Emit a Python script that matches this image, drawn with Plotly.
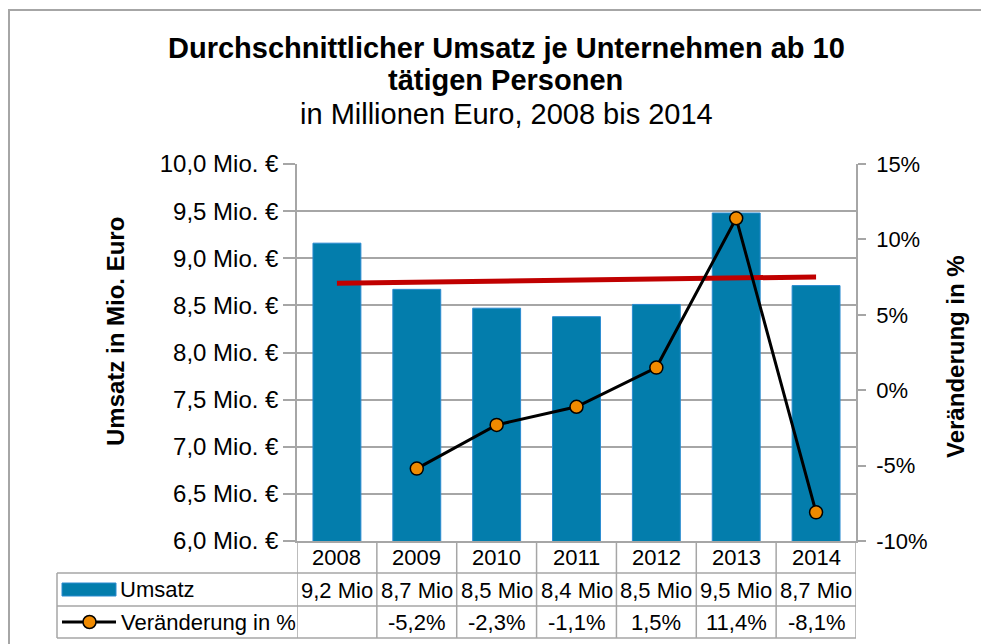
import numpy as np
import plotly.graph_objects as go

years = ["2008", "2009", "2010", "2011", "2012", "2013", "2014"]
umsatz = [9.16, 8.67, 8.47, 8.38, 8.51, 9.48, 8.71]
veraenderung = [None, -5.2, -2.3, -1.1, 1.5, 11.4, -8.1]
pct_ticks = [-10, -5, 0, 5, 10, 15]

FONT = "Liberation Sans, Arial, sans-serif"
GREY = "#A6A6A6"
OFF = 8  # default page margin of the html body
W, H = 989 - OFF, 644 - OFF
# plot area in screen pixels
L, R, T, B = 297, 856, 164, 541


def px(x):
    return (x - L) / (R - L)


def py(y):
    return (B - y) / (B - T)


xi = list(range(len(years)))

# linear trend of bar values
coef = np.polyfit(xi, umsatz, 1)
trend = list(np.polyval(coef, xi))

fig = go.Figure()
fig.add_trace(go.Bar(
    x=xi, y=umsatz, name="Umsatz", width=0.6,
    marker=dict(color="#037DAC", line=dict(color="#2A8BD0", width=1)),
    showlegend=False,
))
fig.add_trace(go.Scatter(
    x=xi, y=trend, mode="lines", line=dict(color="#C00000", width=5),
    showlegend=False, hoverinfo="skip",
))
fig.add_trace(go.Scatter(
    x=xi, y=veraenderung, yaxis="y2", mode="lines+markers", name="Veränderung in %",
    line=dict(color="black", width=3),
    marker=dict(size=13, color="#F08A00", line=dict(color="black", width=1.5)),
    showlegend=False,
))

shapes = []
# outer chart border
shapes.append(dict(type="rect", xref="paper", yref="paper",
                   x0=px(9), x1=px(1010), y0=py(670), y1=py(10),
                   line=dict(color=GREY, width=2), layer="below"))
# table grid
row_lines = [573, 606, 638]
for yy in row_lines:
    shapes.append(dict(type="line", xref="paper", yref="paper",
                       x0=px(57), x1=1, y0=py(yy), y1=py(yy),
                       line=dict(color=GREY, width=1.5)))
for i in range(len(years) + 1):
    shapes.append(dict(type="line", xref="x", yref="paper",
                       x0=i - 0.5, x1=i - 0.5, y0=py(541), y1=py(638),
                       line=dict(color=GREY, width=1.5)))
shapes.append(dict(type="line", xref="paper", yref="paper",
                   x0=px(57), x1=px(57), y0=py(573), y1=py(638),
                   line=dict(color=GREY, width=1.5)))
# legend keys inside the table
shapes.append(dict(type="rect", xref="paper", yref="paper",
                   x0=px(62), x1=px(116), y0=py(596), y1=py(583),
                   fillcolor="#037DAC", line=dict(color="#2A8BD0", width=1)))
shapes.append(dict(type="line", xref="paper", yref="paper",
                   x0=px(62), x1=px(116), y0=py(622), y1=py(622),
                   line=dict(color="black", width=3)))
shapes.append(dict(type="circle", xref="paper", yref="paper",
                   x0=px(83), x1=px(96), y0=py(628.5), y1=py(615.5),
                   fillcolor="#F08A00", line=dict(color="black", width=1.5)))

ann = []
tfont = dict(family=FONT, size=22, color="black")
for i, yr in enumerate(years):
    ann.append(dict(x=i, y=py(557), xref="x", yref="paper", text=yr,
                    showarrow=False, font=tfont, yanchor="middle"))
    ann.append(dict(x=i, y=py(590), xref="x", yref="paper",
                    text=f"{umsatz[i]:.1f} Mio".replace(".", ","),
                    showarrow=False, font=tfont, yanchor="middle"))
    if veraenderung[i] is not None:
        ann.append(dict(x=i, y=py(622), xref="x", yref="paper",
                        text=f"{veraenderung[i]:.1f}%".replace(".", ","),
                        showarrow=False, font=tfont, yanchor="middle"))
ann.append(dict(x=px(118), y=py(589), xref="paper", yref="paper", text="Umsatz",
                showarrow=False, font=tfont, xanchor="left", yanchor="middle"))
ann.append(dict(x=px(119), y=py(622), xref="paper", yref="paper", text="Veränderung in %",
                showarrow=False, font=tfont, xanchor="left", yanchor="middle"))

# titles
ann.append(dict(x=px(506), y=py(48), xref="paper", yref="paper",
                text="<b>Durchschnittlicher Umsatz je Unternehmen ab 10</b>",
                showarrow=False, font=dict(family=FONT, size=29, color="black"),
                yanchor="middle"))
ann.append(dict(x=px(505), y=py(80), xref="paper", yref="paper",
                text="<b>tätigen Personen</b>",
                showarrow=False, font=dict(family=FONT, size=29, color="black"),
                yanchor="middle"))
ann.append(dict(x=px(506), y=py(114), xref="paper", yref="paper",
                text="in Millionen Euro, 2008 bis 2014",
                showarrow=False, font=dict(family=FONT, size=29, color="black"),
                yanchor="middle"))
ann.append(dict(x=px(115), y=py(332), xref="paper", yref="paper",
                text="<b>Umsatz in Mio. Euro</b>", textangle=-90,
                showarrow=False, font=dict(family=FONT, size=24, color="black"),
                xanchor="center", yanchor="middle"))
ann.append(dict(x=px(955), y=py(357), xref="paper", yref="paper",
                text="<b>Veränderung in %</b>", textangle=-90,
                showarrow=False, font=dict(family=FONT, size=24, color="black"),
                xanchor="center", yanchor="middle"))

fig.update_layout(
    width=W, height=H,
    margin=dict(l=L - OFF, r=W - (R - OFF), t=T - OFF, b=H - (B - OFF), pad=0),
    paper_bgcolor="white", plot_bgcolor="white",
    separators=",.",
    font=dict(family=FONT, size=23, color="black"),
    bargap=0.4,
    xaxis=dict(range=[-0.5, len(years) - 0.5], tickvals=xi, showticklabels=False,
               showgrid=False, showline=True, linecolor=GREY, linewidth=1.5,
               ticks="", zeroline=False, fixedrange=True),
    yaxis=dict(range=[6, 10], dtick=0.5, tick0=6, tickformat=".1f", ticksuffix=" Mio. €",
               showgrid=True, gridcolor=GREY, gridwidth=1.5,
               showline=True, linecolor=GREY, linewidth=1.5,
               ticks="outside", ticklen=12, tickcolor=GREY, tickwidth=1.5,
               zeroline=False, tickfont=dict(family=FONT, size=24, color="black")),
    yaxis2=dict(range=[-10, 15], tickvals=pct_ticks,
                ticktext=[f"{v}%" for v in pct_ticks], overlaying="y",
                side="right", showgrid=False, showline=True, linecolor=GREY, linewidth=1.5,
                ticks="outside", ticklen=8, tickcolor=GREY, tickwidth=1.5,
                ticklabelstandoff=6,
                zeroline=False, tickfont=dict(family=FONT, size=22, color="black")),
    shapes=shapes,
    annotations=ann,
    showlegend=False,
)

fig.write_html("out.html")
